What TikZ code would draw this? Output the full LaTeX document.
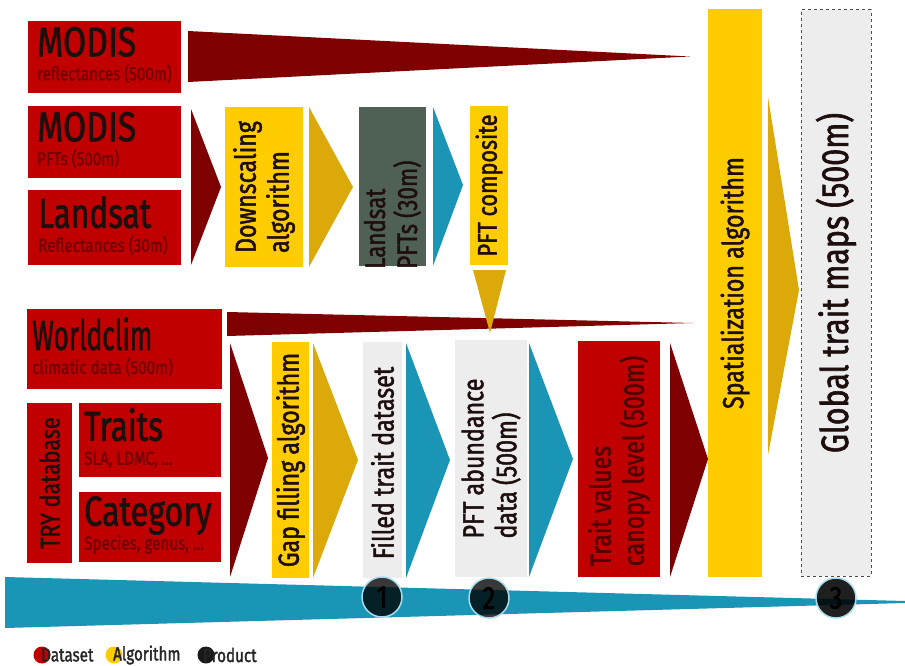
\documentclass[tikz,border=0pt]{standalone}
\usepackage{fontspec}
\setmainfont{Fira Sans}[FakeStretch=0.8, FakeBold=1.6]
\definecolor{cRed}{HTML}{C00000}
\definecolor{cDark}{HTML}{7F0000}
\definecolor{cSub}{HTML}{720000}
\definecolor{cTxt}{HTML}{1E0E0E}
\definecolor{cYel}{HTML}{FFCC00}
\definecolor{cGold}{HTML}{DBAA0A}
\definecolor{cBlue}{HTML}{1A95B5}
\definecolor{cGry}{HTML}{EDEDED}
\definecolor{cGrn}{HTML}{4E6154}
\definecolor{cRing}{HTML}{A8DCEC}
\newcommand\ttlf{\fontsize{42}{24}\selectfont}
\begin{document}
\begin{tikzpicture}[x=1pt,y=-1pt,
  blk/.style={rectangle, inner sep=0pt, outer sep=0pt, anchor=north west},
  redbox/.style={blk, fill=cRed},
  ylwbox/.style={blk, fill=cYel},
  grybox/.style={blk, fill=cGry},
  lbl/.style={inner sep=0pt, text=cTxt, align=left},
  boxlbl/.style={lbl, anchor=west, font=\fontsize{19}{24}\selectfont},
  vlbl/.style={lbl, rotate=90, font=\fontsize{29}{33}\selectfont},
  wedgeR/.style={fill=cDark},
  triR/.style={fill=cDark},
  triY/.style={fill=cGold},
  triB/.style={fill=cBlue},
  badge/.style={circle, minimum size=40, inner sep=0pt, fill=black, fill opacity=0.78, text opacity=1, draw=cRing, draw opacity=1, line width=1.5, font=\fontsize{32}{32}\selectfont, text=black},
  dot/.style={circle, minimum size=17, inner sep=0pt},
  leg/.style={inner sep=0pt, anchor=west, font=\fontsize{19}{19}\selectfont, text=black!85}
]
\useasboundingbox (0,0) rectangle (905,666);

% ---- wedges and triangles (behind) ----
\fill[wedgeR] (188,31) -- (690,56.5) -- (188,82) -- cycle;
\fill[triR] (191,109) -- (221,187) -- (191,265) -- cycle;
\fill[triY] (309,107) -- (353,187) -- (309,267) -- cycle;
\fill[triB] (433,107) -- (463,185) -- (433,266) -- cycle;
\fill[wedgeR] (227,312) -- (693,323) -- (227,336) -- cycle;
\fill[triY] (473,270) -- (506,270) -- (490,333) -- cycle;
\fill[triR] (230,343) -- (268,458) -- (230,577) -- cycle;
\fill[triY] (313,343) -- (358,460) -- (313,578) -- cycle;
\fill[triB] (406,343) -- (450,460) -- (406,578) -- cycle;
\fill[triB] (529,343) -- (573,459) -- (529,577) -- cycle;
\fill[triR] (670,343) -- (708,459) -- (670,577) -- cycle;
\fill[triY] (768,97) -- (799,290) -- (768,455) -- cycle;
\fill[cBlue] (5,577) -- (905,601) -- (905,603) -- (5,628) -- cycle;

% ---- dataset boxes ----
\node[redbox, minimum width=153, minimum height=72] (m1) at (28,21) {};
\node[boxlbl] (m1t) at ([xshift=9,yshift=2]m1.west) {{\ttlf MODIS}\\{\color{cSub}reflectances (500m)}};
\node[redbox, minimum width=153, minimum height=72] (m2) at (28,106) {};
\node[boxlbl] (m2t) at ([xshift=9,yshift=2]m2.west) {{\ttlf MODIS}\\{\color{cSub}PFTs (500m)}};
\node[redbox, minimum width=153, minimum height=75] (ls) at (28,190) {};
\node[boxlbl] (lst) at ([xshift=10,yshift=2]ls.west) {{\ttlf \scalebox{0.94}[1]{Landsat}}\\{\color{cSub}Reflectances (30m)}};
\node[redbox, minimum width=195, minimum height=80] (wc) at (27,309) {};
\node[boxlbl] (wct) at ([xshift=5,yshift=2]wc.west) {{\ttlf \scalebox{0.78}[1]{Worldclim}}\\{\color{cSub}climatic data (500m)}};
\node[redbox, minimum width=45, minimum height=160] (try) at (27,403) {};
\node[lbl, rotate=90, font=\fontsize{27}{27}\selectfont] (tryt) at (try.center) {TRY database};
\node[redbox, minimum width=142, minimum height=74] (tr) at (79,403) {};
\node[boxlbl] (trt) at ([xshift=5,yshift=2]tr.west) {{\ttlf \scalebox{0.94}[1]{Traits}}\\{\color{cSub}SLA, LDMC, ...}};
\node[redbox, minimum width=142, minimum height=70] (ct) at (79,492) {};
\node[boxlbl] (ctt) at ([xshift=5,yshift=2]ct.west) {{\ttlf \scalebox{0.96}[1]{Category}}\\{\color{cSub}Species, genus, ...}};

% ---- algorithms and products ----
\node[ylwbox, minimum width=78, minimum height=160] (ds) at (225,107) {};
\node[vlbl] (dst) at (ds.center) {Downscaling\\algorithm};
\node[blk, fill=cGrn, minimum width=67, minimum height=159] (lp) at (359,107) {};
\node[vlbl, anchor=west, font=\fontsize{28}{32}\selectfont] (lpt) at ([yshift=-3]lp.south) {Landsat\\PFTs (30m)};
\node[ylwbox, minimum width=38, minimum height=159] (pc) at (470,106) {};
\node[vlbl, font=\fontsize{27}{27}\selectfont] (pct) at (pc.center) {PFT composite};
\node[ylwbox, minimum width=37, minimum height=236] (gf) at (272,342) {};
\node[vlbl] (gft) at (gf.center) {Gap filling algorithm};
\node[grybox, minimum width=39, minimum height=236] (ft) at (363,342) {};
\node[vlbl] (ftt) at ([yshift=-3]ft.center) {Filled trait dataset};
\node[grybox, minimum width=72, minimum height=237] (pa) at (455,340) {};
\node[vlbl] (pat) at (pa.center) {PFT abundance\\data (500m)};
\node[redbox, minimum width=82, minimum height=236] (tv) at (578,341) {};
\node[vlbl, text=cSub!70!black] (tvt) at ([yshift=-2]tv.center) {Trait values\\canopy level (500m)};
\node[ylwbox, minimum width=54, minimum height=568] (sp) at (708,9) {};
\node[vlbl] (spt) at ([yshift=10]sp.center) {Spatialization algorithm};
\node[grybox, draw=black!70, dashed, line width=1, minimum width=70, minimum height=566] (gt) at (801,10) {};
\node[vlbl, font=\fontsize{38}{38}\selectfont] (gtt) at ([yshift=10]gt.center) {Global trait maps (500m)};

% ---- product badges ----
\node[badge] (b1) at (382,597) {1};
\node[badge] (b2) at (489,598) {2};
\node[badge, fill opacity=0.88] (b3) at (836,598) {3};

% ---- legend ----
\node[dot, fill=cRed] (d1) at (42,655) {};
\node[leg] (l1) at (41,655) {Dataset};
\node[dot, fill=cYel] (d2) at (114,655) {};
\node[leg] (l2) at (113,655) {Algorithm};
\node[dot, fill=black!90] (d3) at (206,655) {};
\node[leg] (l3) at (203,655) {Product};
\end{tikzpicture}
\end{document}
